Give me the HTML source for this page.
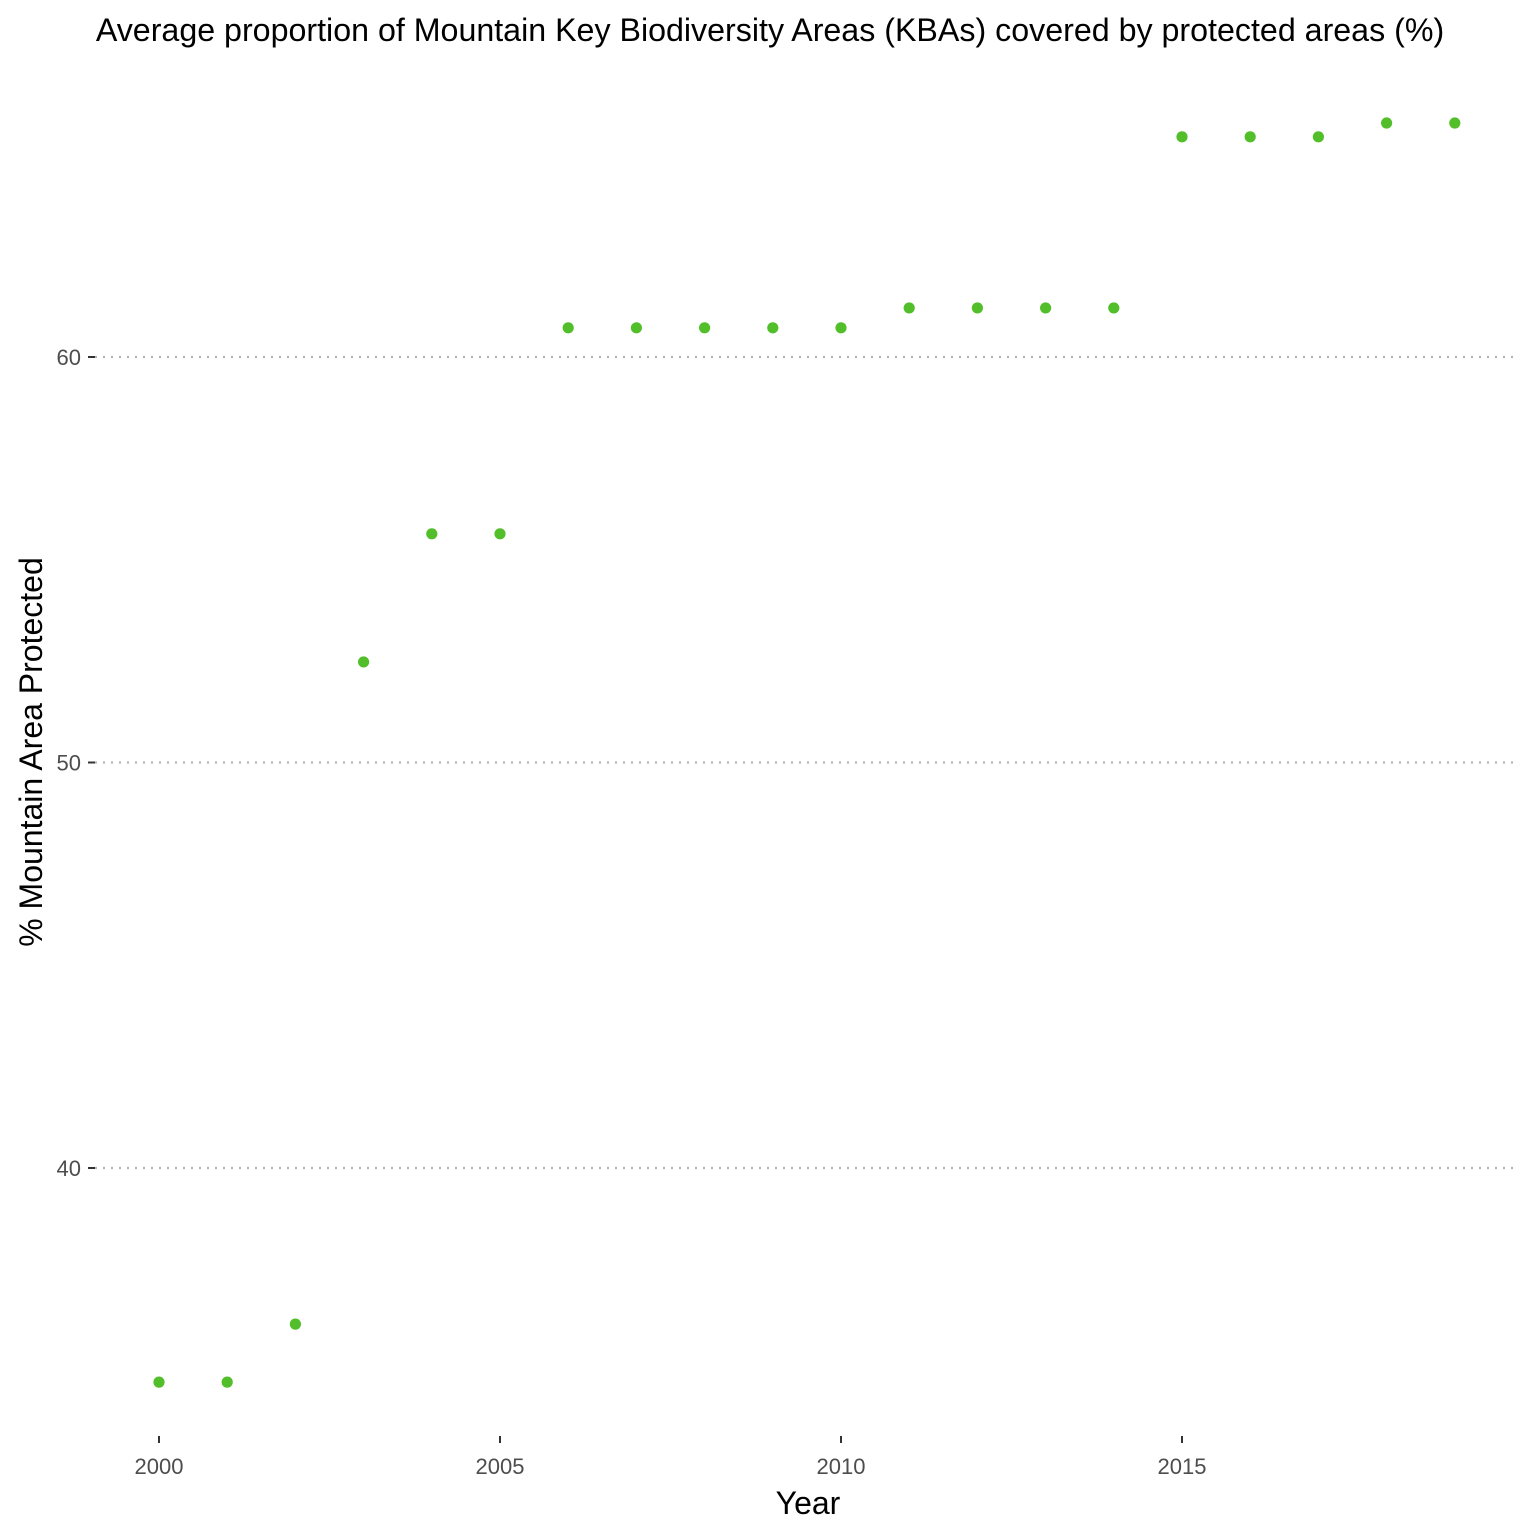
<!DOCTYPE html>
<html><head><meta charset="utf-8"><style>
html,body{margin:0;padding:0;background:#fff;}
svg{display:block;font-family:"Liberation Sans",Arial,sans-serif;}
</style></head><body>
<svg id="chart" width="1536" height="1536" viewBox="0 0 1536 1536">
<text x="770" y="41" text-anchor="middle" font-size="32.2" fill="#000">Average proportion of Mountain Key Biodiversity Areas (KBAs) covered by protected areas (%)</text>
<g id="grid"></g>
<g id="yaxis"></g>
<g id="xaxis"></g>
<g id="points"></g>
<text x="808" y="1514" text-anchor="middle" font-size="32" fill="#000">Year</text>
<text transform="translate(42,752) rotate(-90)" text-anchor="middle" font-size="32" fill="#000">% Mountain Area Protected</text>
</svg>
<script>
const years = [2000,2001,2002,2003,2004,2005,2006,2007,2008,2009,2010,2011,2012,2013,2014,2015,2016,2017,2018,2019];
const values = [34.72,34.72,36.15,52.48,55.64,55.64,60.72,60.72,60.72,60.72,60.72,61.21,61.21,61.21,61.21,65.43,65.43,65.43,65.77,65.77];
const yTicks = [40,50,60];
const xTicks = [2000,2005,2010,2015];
const NS="http://www.w3.org/2000/svg";
function xs(v){return 159+(v-2000)*68.2;}
function ys(v){return 357-(v-60)*40.55;}
function mk(t,a){const e=document.createElementNS(NS,t);for(const k in a)e.setAttribute(k,a[k]);return e;}
const grid=document.getElementById('grid'),ya=document.getElementById('yaxis'),xa=document.getElementById('xaxis'),pts=document.getElementById('points');
yTicks.forEach(t=>{
  const y=ys(t);
  const l=mk('line',{x1:95,x2:1515,y1:y,y2:y,stroke:'#b3b3b3','stroke-width':2.2,'stroke-dasharray':'2 6'});
  
  
  grid.appendChild(l);
  const tk=mk('line',{x1:88,x2:95,y1:y,y2:y,stroke:'#333','stroke-width':2});
  
  
  ya.appendChild(tk);
  const tx=mk('text',{x:81,y:y+8,'text-anchor':'end','font-size':22,fill:'#4d4d4d'});
  tx.textContent=t;
  
  
  ya.appendChild(tx);
});
xTicks.forEach(t=>{
  const x=xs(t);
  const tk=mk('line',{x1:x,x2:x,y1:1436,y2:1443,stroke:'#333','stroke-width':2});
  
  
  xa.appendChild(tk);
  const tx=mk('text',{x:x,y:1474,'text-anchor':'middle','font-size':22,fill:'#4d4d4d'});
  tx.textContent=t;
  
  
  xa.appendChild(tx);
});
years.forEach((yr,i)=>{
  const c=mk('circle',{cx:xs(yr),cy:ys(values[i]),r:5.6,fill:'#52bf2a'});
  
  
  pts.appendChild(c);
});
</script>
</body></html>
